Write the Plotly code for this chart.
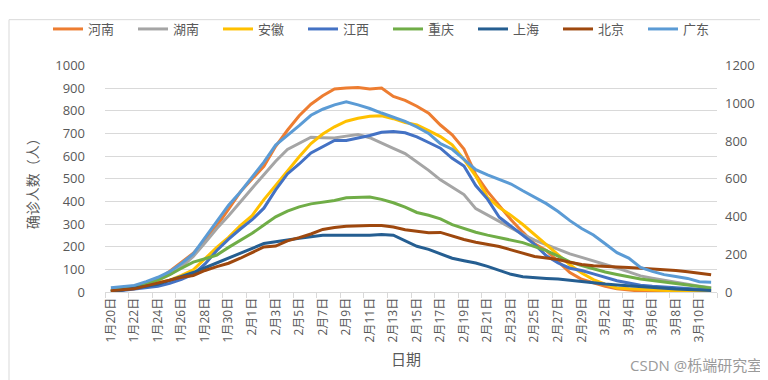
import plotly.graph_objects as go

dates = (["1月%d日" % d for d in range(20, 32)] +
         ["2月%d日" % d for d in range(1, 30)] +
         ["3月%d日" % d for d in range(1, 12)])

henan = [5, 9, 15, 33, 55, 92, 130, 171, 228, 292, 366, 442, 499, 555, 643, 714, 778, 829, 866, 896,
         900, 903, 896, 900, 863, 846, 820, 789, 737, 694, 631, 518, 444, 379, 319, 264, 213, 183, 133, 86,
         56, 39, 25, 14, 8, 4, 3, 2, 1, 1, 0, 0]
hunan = [9, 15, 28, 37, 50, 77, 110, 157, 217, 280, 337, 400, 458, 518, 577, 629, 657, 683, 681, 680,
         688, 695, 681, 656, 634, 611, 574, 537, 495, 462, 430, 368, 339, 310, 282, 255, 229, 208, 188, 168,
         153, 138, 123, 106, 89, 71, 61, 51, 42, 34, 26, 19]
anhui = [2, 10, 20, 30, 40, 52, 73, 98, 147, 197, 241, 293, 337, 408, 470, 534, 597, 655, 697, 729,
         754, 767, 776, 778, 765, 748, 738, 712, 686, 650, 585, 512, 418, 373, 338, 298, 254, 211, 166, 120,
         84, 55, 35, 18, 14, 11, 8, 6, 5, 4, 3, 3]
jiangxi = [1, 7, 12, 17, 25, 38, 56, 78, 124, 183, 233, 278, 319, 370, 451, 521, 565, 614, 642, 669,
           669, 679, 691, 705, 708, 703, 685, 660, 635, 590, 556, 470, 410, 330, 290, 253, 210, 160, 128, 105,
           95, 80, 65, 50, 40, 30, 25, 21, 18, 15, 12, 11]
chongqing = [5, 15, 25, 35, 54, 77, 105, 132, 147, 163, 197, 229, 259, 296, 332, 357, 376, 389, 396, 404,
             416, 419, 419, 409, 394, 375, 351, 339, 323, 297, 280, 264, 251, 240, 230, 218, 200, 183, 158, 133,
             117, 101, 88, 77, 67, 57, 51, 45, 38, 30, 24, 17]
shanghai = [1, 8, 17, 25, 34, 51, 69, 86, 107, 128, 149, 171, 193, 214, 222, 231, 237, 244, 250, 250,
            249, 250, 251, 254, 251, 227, 202, 188, 168, 149, 138, 128, 113, 97, 78, 67, 62, 60, 57, 51,
            45, 40, 35, 31, 27, 23, 18, 15, 13, 11, 9, 7]
beijing = [6, 10, 14, 27, 40, 52, 65, 73, 95, 112, 127, 149, 175, 199, 203, 226, 240, 256, 276, 285,
           290, 293, 294, 294, 287, 275, 267, 262, 263, 246, 232, 220, 212, 201, 186, 171, 157, 150, 143, 131,
           121, 116, 112, 110, 108, 105, 102, 99, 95, 89, 82, 76]
# Guangdong is plotted on the secondary (right) axis
guangdong = [22, 29, 35, 55, 78, 108, 151, 202, 286, 372, 460, 530, 606, 688, 778, 828, 881, 936, 968, 991,
             1007, 991, 972, 948, 926, 904, 874, 840, 786, 756, 702, 648, 620, 596, 572, 536, 502, 468, 426, 378,
             336, 302, 256, 208, 180, 130, 109, 92, 82, 72, 54, 52]

series = [
    ("河南", henan, "#ED7D31", "y"),
    ("湖南", hunan, "#A5A5A5", "y"),
    ("安徽", anhui, "#FFC000", "y"),
    ("江西", jiangxi, "#4472C4", "y"),
    ("重庆", chongqing, "#70AD47", "y"),
    ("上海", shanghai, "#255E91", "y"),
    ("北京", beijing, "#9E480E", "y"),
    ("广东", guangdong, "#5B9BD5", "y2"),
]

left_ticks = list(range(0, 1001, 100))
right_ticks = list(range(0, 1201, 200))

xidx = list(range(len(dates)))

fig = go.Figure()
for k, (name, vals, color, ax) in enumerate(series):
    fig.add_trace(go.Scatter(x=xidx, y=vals, name=name, mode="lines", yaxis=ax,
                             legend="legend" if k < 4 else "legend2",
                             line=dict(color=color, width=3)))

FONT = "Open Sans, Noto Sans CJK SC, sans-serif"
TXT = "#595959"

W, H = 768, 380
L, R, T, B = 97, 59, 49, 96
pw, ph = W - L - R, H - T - B

leg_common = dict(orientation="h", xref="container", yref="container",
                  xanchor="left", y=1 - 21 / H, yanchor="middle",
                  font=dict(family=FONT, size=13, color=TXT),
                  entrywidth=40, itemwidth=30, bgcolor="rgba(0,0,0,0)")

fig.update_layout(
    width=W, height=H,
    margin=dict(l=L, r=R, t=T, b=B),
    paper_bgcolor="white", plot_bgcolor="white",
    font=dict(family=FONT, color=TXT, size=13),
    showlegend=True,
    legend=dict(x=40 / W, **leg_common),
    legend2=dict(x=380 / W, **leg_common),
    xaxis=dict(range=[-0.5, len(dates) - 0.5], tickvals=xidx[::2], ticktext=dates[::2],
               tickangle=-90, ticks="", showgrid=False, zeroline=False,
               showline=True, linecolor="#D9D9D9", linewidth=1,
               tickfont=dict(family=FONT, size=12, color=TXT),
               minor=dict(tick0=-0.5, dtick=2, ticks="outside", ticklen=5,
                          tickcolor="#D9D9D9", showgrid=False)),
    yaxis=dict(range=[0, 1000], tickvals=left_ticks, showgrid=True, gridcolor="#D9D9D9",
               gridwidth=1, zeroline=False, showline=False, ticks="",
               ticklabelstandoff=19,
               tickfont=dict(family=FONT, size=13, color=TXT)),
    yaxis2=dict(range=[0, 1200], tickvals=right_ticks, overlaying="y", side="right",
                showgrid=False, zeroline=False, showline=False, ticks="",
                ticklabelstandoff=7,
                tickfont=dict(family=FONT, size=13, color=TXT)),
    annotations=[
        dict(text="确诊人数（人）", xref="paper", yref="paper", x=(24 - L) / pw,
             y=(T + ph - 168) / ph, textangle=-90, showarrow=False,
             font=dict(family=FONT, size=14, color=TXT), xanchor="center", yanchor="middle"),
        dict(text="日期", xref="paper", yref="paper", x=(398 - L) / pw,
             y=(T + ph - 354) / ph, showarrow=False,
             font=dict(family=FONT, size=15, color=TXT), xanchor="center", yanchor="middle"),
        dict(text="CSDN @栎端研究室", xref="paper", yref="paper", x=(688 - L) / pw,
             y=(T + ph - 360) / ph, showarrow=False,
             font=dict(family=FONT, size=15, color="#9A9A9A"), xanchor="center", yanchor="middle"),
    ],
    shapes=[dict(type="rect", xref="paper", yref="paper",
                 x0=(1 - L) / pw, x1=(766.5 - L) / pw,
                 y0=(T + ph - 378) / ph, y1=(T + ph - 1.5) / ph,
                 line=dict(color="#D9D9D9", width=1), fillcolor="rgba(0,0,0,0)", layer="below")],
)

fig.write_html("out.html")
